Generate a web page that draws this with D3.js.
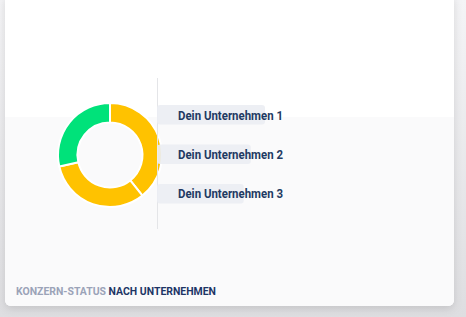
<!DOCTYPE html>
<html>
<head>
<meta charset="utf-8">
<script src="https://cdn.jsdelivr.net/npm/d3@7"></script>
<style>
  html, body { margin: 0; padding: 0; background: #f2f2f4; }
  svg { display: block; font-family: Roboto, "Noto Sans", sans-serif; }
</style>
</head>
<body>
<svg id="chart" width="466" height="317"></svg>
<script>
// data
const companies = ["Dein Unternehmen 1", "Dein Unternehmen 2", "Dein Unternehmen 3"];
const counts = [11, 9, 8];
const sliceColors = ["#ffc200", "#ffc200", "#00e27a"];
const titleGray = "KONZERN-STATUS";
const titleDark = "NACH UNTERNEHMEN";

const svg = d3.select("#chart");
const W = 466, H = 317;

// background + card
const defs = svg.append("defs");
const bg = defs.append("linearGradient").attr("id", "bg").attr("x1", 0).attr("y1", 0).attr("x2", 0).attr("y2", 1);
bg.append("stop").attr("offset", "0%").attr("stop-color", "#f4f4f6");
bg.append("stop").attr("offset", "100%").attr("stop-color", "#dedee1");
const shadow = defs.append("filter").attr("id", "shadow").attr("x", "-10%").attr("y", "-10%").attr("width", "120%").attr("height", "130%");
shadow.append("feDropShadow").attr("dx", 0).attr("dy", 3).attr("stdDeviation", 4).attr("flood-color", "#000").attr("flood-opacity", 0.12);
defs.append("clipPath").attr("id", "cardClip")
  .append("rect").attr("x", 5).attr("y", -6).attr("width", 449).attr("height", 312).attr("rx", 6);

svg.append("rect").attr("width", W).attr("height", H).attr("fill", "url(#bg)");
svg.append("rect").attr("x", 5).attr("y", -6).attr("width", 449).attr("height", 312).attr("rx", 6)
  .attr("fill", "#ffffff").attr("filter", "url(#shadow)");
const card = svg.append("g").attr("clip-path", "url(#cardClip)");
card.append("rect").attr("x", 5).attr("y", 117).attr("width", 449).attr("height", 200).attr("fill", "#fafafb");

// donut
const cx = 110, cy = 155;
const pie = d3.pie().sort(null)(counts);
const arc = d3.arc().innerRadius(32.5).outerRadius(52);
card.append("g").attr("transform", `translate(${cx},${cy})`)
  .selectAll("path")
  .data(pie)
  .join("path")
  .attr("d", arc)
  .attr("fill", (d, i) => sliceColors[i])
  .attr("stroke", "#ffffff")
  .attr("stroke-width", 2);

// divider
card.append("line").attr("x1", 157.5).attr("x2", 157.5).attr("y1", 78).attr("y2", 229)
  .attr("stroke", "#e4e5e8").attr("stroke-width", 1);

// label bars
const y = d3.scaleBand().domain(companies).range([105, 203.5]).paddingInner(0.506).paddingOuter(0);
const w = d3.scaleLinear().domain([0, d3.max(counts)]).range([30, 108]);
const rows = card.selectAll(".row").data(companies).join("g").attr("class", "row");
rows.append("rect")
  .attr("x", 157)
  .attr("y", d => y(d))
  .attr("width", (d, i) => w(counts[i]))
  .attr("height", y.bandwidth())
  .attr("rx", 3)
  .attr("fill", "#eceef3")
  .attr("fill-opacity", 0.92);
rows.append("text")
  .attr("x", 178)
  .attr("y", d => y(d) + 14.5)
  .attr("font-size", 13)
  .attr("font-weight", 700)
  .attr("fill", "#1f3a63")
  .attr("textLength", 105)
  .attr("lengthAdjust", "spacingAndGlyphs")
  .text(d => d);

// title
const t = card.append("text").attr("x", 16).attr("y", 295).attr("font-size", 11.5).attr("font-weight", 700)
  .attr("textLength", 200).attr("lengthAdjust", "spacingAndGlyphs");
t.append("tspan").attr("fill", "#9ba3b8").text(titleGray + " ");
t.append("tspan").attr("fill", "#1d3566").text(titleDark);
</script>
</body>
</html>
